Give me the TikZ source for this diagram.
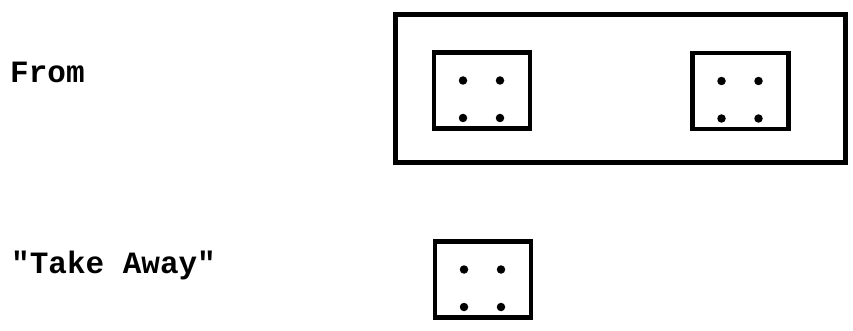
\documentclass[tikz,border=0pt]{standalone}
\usepackage{fontspec}
\setmonofont{Liberation Mono}
\usetikzlibrary{positioning}

\begin{document}
\begin{tikzpicture}[
    x=1pt, y=-1pt,
    word/.style={anchor=base west, inner sep=0pt, font=\fontsize{31}{31}\selectfont\ttfamily\bfseries},
    tray/.style={draw, line width=5pt, minimum width=450pt, minimum height=148pt, inner sep=0pt},
    domino/.style={draw, line width=4.5pt, minimum width=96pt, minimum height=76pt, inner sep=0pt},
    pip/.style={fill, circle, inner sep=0pt, minimum size=8.5pt}
]
\useasboundingbox (0,0) rectangle (853,331);

% labels
\node[word] (from) at (10,83) {From};
\node[word] (takeaway) at (11,273) {"Take Away"};

% the set we start from
\node[tray] (whole) at (620,89) {};
\node[domino] (left) at (482,90.5) {};
\node[domino] (right) at (740.5,91) {};

% the set taken away
\node[domino] (taken) at (483,279.5) {};

% four pips on each card
\foreach \card in {left, right, taken} {
    \foreach \dx in {-19,18}
        \foreach \dy in {-10,27.5}
            \node[pip] at ([shift={(\dx,\dy)}]\card.center) {};
}

\end{tikzpicture}
\end{document}
